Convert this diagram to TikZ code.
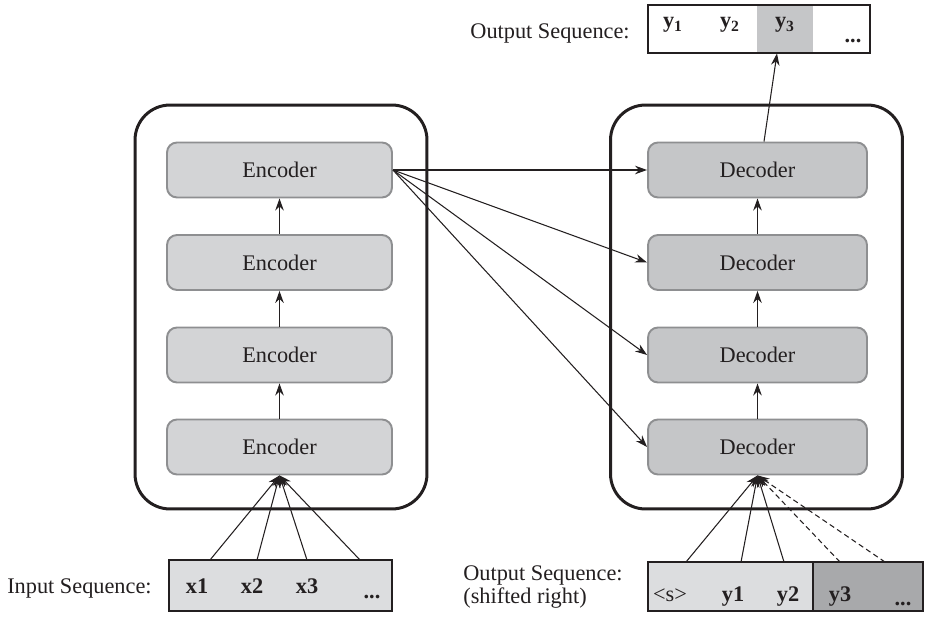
\documentclass[tikz,border=0pt]{standalone}
\usepackage{fontspec}
\setmainfont{Liberation Serif}
\usetikzlibrary{arrows.meta,positioning}

\begin{document}
\begin{tikzpicture}[x=0.02cm, y=-0.02cm, >={Stealth[length=2.4mm,width=1.7mm]}, font=\fontsize{12.7}{15.5}\selectfont]
  \definecolor{ink}{HTML}{231F20}
  \definecolor{rim}{HTML}{8E8F91}
  \definecolor{encfill}{HTML}{D3D4D6}
  \definecolor{decfill}{HTML}{C5C6C8}
  \definecolor{seqfill}{HTML}{DCDDDF}
  \definecolor{maskfill}{HTML}{A8A9AB}
  \tikzset{
    stack/.style={draw=ink, line width=1.7pt, rounded corners=0.7cm, minimum width=5.84cm, minimum height=8.08cm},
    layer/.style={draw=rim, line width=1.1pt, rounded corners=0.2cm, minimum height=1.1cm, text=ink},
    seqbox/.style={draw=ink, line width=0.9pt, inner sep=0pt},
    tok/.style={anchor=base, inner sep=0pt, text=ink, font=\fontsize{12.7}{15.5}\selectfont\bfseries},
    link/.style={->, draw=ink, line width=0.6pt},
  }
  \useasboundingbox (0,0) rectangle (925,617);

  % the two stacks
  \node[stack] (encstack) at (281,307) {};
  \node[stack] (decstack) at (756.5,307) {};

  \node[layer, fill=encfill, minimum width=4.5cm] (enc1) at (279.5,447) {Encoder};
  \node[layer, fill=encfill, minimum width=4.5cm] (enc2) at (279.5,355) {Encoder};
  \node[layer, fill=encfill, minimum width=4.5cm] (enc3) at (279.5,262.5) {Encoder};
  \node[layer, fill=encfill, minimum width=4.5cm] (enc4) at (279.5,170) {Encoder};

  \node[layer, fill=decfill, minimum width=4.38cm] (dec1) at (757.5,447) {Decoder};
  \node[layer, fill=decfill, minimum width=4.38cm] (dec2) at (757.5,355) {Decoder};
  \node[layer, fill=decfill, minimum width=4.38cm] (dec3) at (757.5,262.5) {Decoder};
  \node[layer, fill=decfill, minimum width=4.38cm] (dec4) at (757.5,170) {Decoder};

  \draw[link] (enc1) -- (enc2);
  \draw[link] (enc2) -- (enc3);
  \draw[link] (enc3) -- (enc4);
  \draw[link] (dec1) -- (dec2);
  \draw[link] (dec2) -- (dec3);
  \draw[link] (dec3) -- (dec4);

  \draw[link] (enc4.east) -- (dec4.west);
  \draw[link] (enc4.east) -- (dec3.west);
  \draw[link] (enc4.east) -- (dec2.west);
  \draw[link] (enc4.east) -- (dec1.west);

  % input sequence
  \node[seqbox, fill=seqfill, minimum width=4.46cm, minimum height=1.02cm] (inseq) at (280.5,585.5) {};
  \node[anchor=base east, inner sep=0pt, text=ink] (inlabel) at (152,593) {Input Sequence:};
  \node[tok] (x1) at (197,593) {x1};
  \node[tok] (x2) at (252,593) {x2};
  \node[tok] (x3) at (307,593) {x3};
  \node[tok] (xdots) at (372,598) {...};
  \foreach \px [count=\i] in {210,257,307,360} {
    \coordinate (in\i) at (\px,560);
    \draw[link] (in\i) -- (enc1.south);
  }

  % shifted output sequence
  \node[seqbox, fill=seqfill, minimum width=3.3cm, minimum height=0.98cm] (shifted) at (730.5,586.5) {};
  \node[seqbox, fill=maskfill, minimum width=2.2cm, minimum height=0.98cm] (masked) at (868,586.5) {};
  \node[anchor=north west, inner sep=0pt, align=left, text=ink, font=\fontsize{12.7}{13.1}\selectfont] (shlabel) at (463,565) {Output Sequence:\\(shifted right)};
  \node[anchor=base, inner sep=0pt, text=ink] (start) at (670,601) {<s>};
  \node[tok] (s1) at (733,601) {y1};
  \node[tok] (s2) at (788,601) {y2};
  \node[tok] (s3) at (840,601) {y3};
  \node[tok] (sdots) at (903,605) {...};
  \foreach \px [count=\i] in {686,741,784} {
    \coordinate (sh\i) at (\px,562);
    \draw[link] (sh\i) -- (dec1.south);
  }
  \foreach \px [count=\i] in {840,885} {
    \coordinate (mk\i) at (\px,562);
    \draw[link, dash pattern=on 3pt off 2pt] (mk\i) -- (dec1.south);
  }

  % output sequence on top
  \node[fill=decfill, inner sep=0pt, minimum width=1.12cm, minimum height=0.96cm] (ycell) at (785,29) {};
  \node[seqbox, minimum width=4.44cm, minimum height=0.96cm] (outseq) at (759,29) {};
  \node[anchor=base east, inner sep=0pt, text=ink] (outlabel) at (630,39) {Output Sequence:};
  \node[tok] (y1) at (673,28) {y\textsubscript{1}};
  \node[tok] (y2) at (730,28) {y\textsubscript{2}};
  \node[tok] (y3) at (785,28) {y\textsubscript{3}};
  \node[tok] (ydots) at (853,43) {...};
  \draw[link] ([xshift=0.13cm]dec4.north) -- ([xshift=-0.16cm]ycell.south);
\end{tikzpicture}
\end{document}
